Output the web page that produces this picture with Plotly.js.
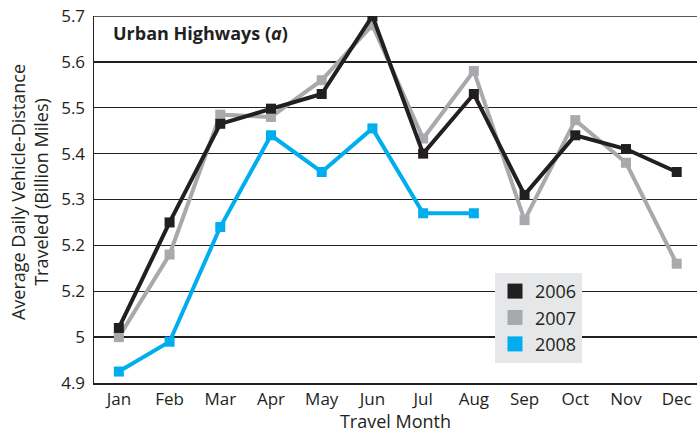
<!DOCTYPE html>
<html>
<head>
<meta charset="utf-8">
<script src="https://cdn.plot.ly/plotly-3.0.1.min.js"></script>
<style>html,body{margin:0;padding:0;background:#fff;}#chart{width:697px;height:433px;}</style>
</head>
<body>
<div id="chart"></div>
<script>
const months = ["Jan","Feb","Mar","Apr","May","Jun","Jul","Aug","Sep","Oct","Nov","Dec"];
const v2006 = [5.02, 5.25, 5.465, 5.498, 5.53, 5.70, 5.40, 5.53, 5.31, 5.44, 5.41, 5.36];
const v2007 = [5.00, 5.18, 5.485, 5.48, 5.56, 5.68, 5.433, 5.58, 5.255, 5.473, 5.38, 5.16];
const v2008 = [4.925, 4.99, 5.24, 5.44, 5.36, 5.455, 5.27, 5.27];
const yTickVals = [4.9, 5.0, 5.1, 5.2, 5.3, 5.4, 5.5, 5.6, 5.7];
const yTickText = ["4.9", "5", "5.2", "5.2", "5.3", "5.4", "5.5", "5.6", "5.7"];
const seriesNames = ["2006", "2007", "2008"];
const colors = {"2006": "#231f20", "2007": "#a7a9ac", "2008": "#00aeef"};

const FONT = "Open Sans, Noto Sans, sans-serif";
function lineTrace(name, ys) {
  return {
    x: months.slice(0, ys.length), y: ys, name: name, type: "scatter", mode: "lines+markers",
    line: {color: colors[name], width: 4}, marker: {color: colors[name], symbol: "square", size: 10},
    showlegend: false, hoverinfo: "skip"
  };
}
function legendTrace(name) {
  return {
    x: [null], y: [null], name: name, type: "scatter", mode: "markers",
    marker: {color: colors[name], symbol: "square", size: 15}, showlegend: true
  };
}
const data = [
  lineTrace("2008", v2008),
  lineTrace("2007", v2007),
  lineTrace("2006", v2006),
  legendTrace("2006"), legendTrace("2007"), legendTrace("2008")
];
const layout = {
  width: 697, height: 433,
  margin: {l: 94, r: 0, t: 16, b: 50, pad: 0},
  paper_bgcolor: "#ffffff", plot_bgcolor: "#ffffff",
  font: {family: FONT, size: 17, color: "#231f20"},
  showlegend: true,
  legend: {
    x: 0.665, y: 0.30, xanchor: "left", yanchor: "top",
    bgcolor: "#e6e7e8", borderwidth: 0,
    font: {family: FONT, size: 18, color: "#231f20"},
    traceorder: "normal", tracegroupgap: 0, itemwidth: 30
  },
  xaxis: {
    type: "category", categoryarray: months, range: [-0.49, 11.4],
    showgrid: false, zeroline: false, showline: true, linecolor: "#231f20", linewidth: 1.5,
    ticks: "", tickfont: {family: FONT, size: 17, color: "#231f20"},
    title: {text: "Travel Month", font: {family: FONT, size: 18, color: "#231f20"}, standoff: 2},
    automargin: false, fixedrange: true
  },
  yaxis: {
    range: [4.9, 5.7], tickmode: "array", tickvals: yTickVals, ticktext: yTickText,
    showgrid: true, gridcolor: "#231f20", gridwidth: 1.3, zeroline: false,
    showline: true, linecolor: "#231f20", linewidth: 1.5, ticks: "", ticklabelstandoff: 4,
    tickfont: {family: FONT, size: 17, color: "#231f20"},
    automargin: false, fixedrange: true
  },
  shapes: [
    {type: "line", xref: "paper", yref: "y", x0: 0, x1: 1, y0: 5.7, y1: 5.7, line: {color: "#231f20", width: 1.5}}
  ],
  annotations: [
    {text: "<b>Urban Highways (<i>a</i>)</b>", xref: "paper", yref: "paper", x: 0.029, y: 0.954,
     xanchor: "left", yanchor: "middle", showarrow: false, font: {family: FONT, size: 18, color: "#231f20"}},
    {text: "Average Daily Vehicle-Distance<br>Traveled (Billion Miles)", xref: "paper", yref: "paper",
     x: -0.108, y: 0.52, xanchor: "center", yanchor: "middle", textangle: -90, showarrow: false,
     font: {family: FONT, size: 18, color: "#231f20"}}
  ]
};
Plotly.newPlot("chart", data, layout, {displayModeBar: false, staticPlot: true});
</script>
</body>
</html>
